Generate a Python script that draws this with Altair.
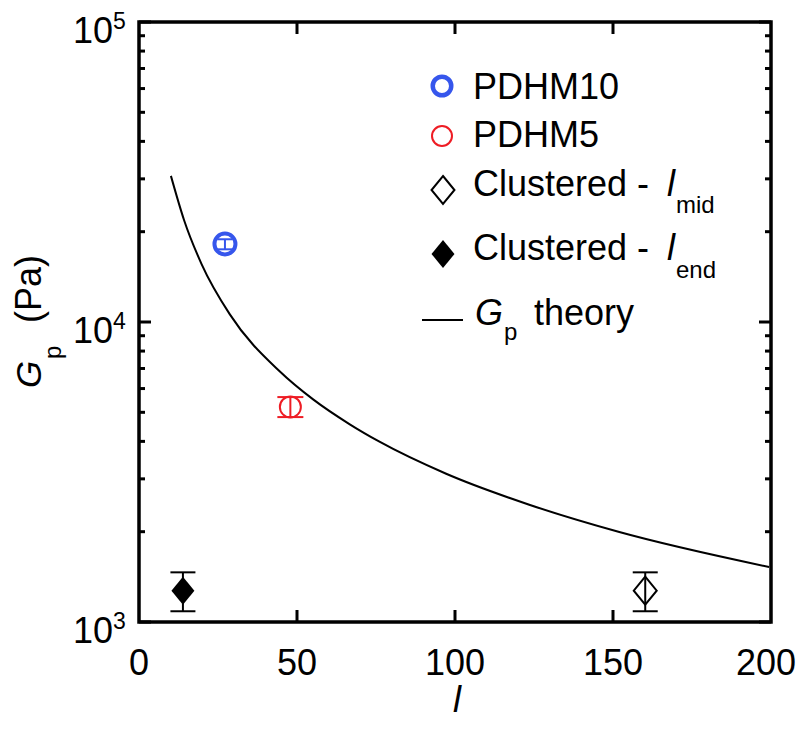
import altair as alt
import pandas as pd

# ---------------- data ----------------
theory_l = [10.1, 14.3, 19.8, 28.75, 44.5, 55.1, 66.7, 76.1, 97.2, 123.5, 152.0, 199.4]
theory_g = [30700, 21800, 15600, 10600, 6850, 5520, 4560, 3990, 3120, 2460, 1995, 1525]

sample_names = ["PDHM10", "PDHM5", "Clustered - l_mid", "Clustered - l_end"]
sample_l = [27.2, 47.9, 160.2, 13.9]
sample_g = [18200, 5210, 1272, 1272]
sample_lo = [17470, 4820, 1086, 1086]
sample_hi = [18870, 5620, 1464, 1464]

x_tick_values = [0, 50, 100, 150, 200]
x_tick_labels = ["0", "50", "100", "150", "200"]
y_major = [1000, 10000, 100000]
y_exponents = ["3", "4", "5"]
y_minor = [2000, 3000, 4000, 5000, 6000, 7000, 8000, 9000,
           20000, 30000, 40000, 50000, 60000, 70000, 80000, 90000]

# ---------------- styling ----------------
W, H = 632, 600
FONT = "Liberation Sans"
BLUE = "#3656ec"
RED = "#ee1c24"
DIAMOND = "M0,-1L0.82,0L0,1L-0.82,0Z"
CAP = "M-1,0H1"

xs = alt.Scale(domain=[0, 200], nice=False, zero=False)
ys = alt.Scale(type="log", domain=[1000, 100000], nice=False)

theory_df = pd.DataFrame({"l": theory_l, "g": theory_g})
samples_df = pd.DataFrame({"name": sample_names, "l": sample_l, "g": sample_g,
                           "lo": sample_lo, "hi": sample_hi})
one = pd.DataFrame({"k": [0]})

def X(f):
    return alt.X(f, type="quantitative", scale=xs, axis=None)

def Y(f):
    return alt.Y(f, type="quantitative", scale=ys, axis=None)

layers = []

# theory curve
layers.append(alt.Chart(theory_df).mark_line(color="black", strokeWidth=2, interpolate="monotone")
              .encode(x=X("l"), y=Y("g")))

styles = {
    "PDHM10": dict(shape="circle", size=441, filled=False, color=BLUE, sw=4, capw=15, ecol=BLUE),
    "PDHM5": dict(shape="circle", size=441, filled=False, color=RED, sw=2, capw=26, ecol=RED),
    "Clustered - l_mid": dict(shape=DIAMOND, size=784, filled=False, color="black", sw=2, capw=25, ecol="black"),
    "Clustered - l_end": dict(shape=DIAMOND, size=784, filled=True, color="black", sw=1, capw=25, ecol="black"),
}

for name in sample_names:
    st = styles[name]
    base = alt.Chart(samples_df).transform_filter(alt.datum.name == name)
    layers.append(base.mark_rule(color=st["ecol"], strokeWidth=2)
                  .encode(x=X("l"), y=Y("lo"), y2="hi"))
    for f in ["lo", "hi"]:
        layers.append(base.mark_point(shape=CAP, size=st["capw"] ** 2, filled=False, color=st["ecol"],
                                      strokeWidth=2, opacity=1)
                      .encode(x=X("l"), y=Y(f)))
    layers.append(base.mark_point(shape=st["shape"], size=st["size"], filled=st["filled"],
                                  color=st["color"], strokeWidth=st["sw"], opacity=1)
                  .encode(x=X("l"), y=Y("g")))

# ticks (inward, mirrored)
ymaj_df = pd.DataFrame({"v": y_major})
ymin_df = pd.DataFrame({"v": y_minor})
xt_df = pd.DataFrame({"v": x_tick_values[1:-1]})
for df, ln in [(ymaj_df, 12), (ymin_df, 6)]:
    layers.append(alt.Chart(df).mark_rule(color="black", strokeWidth=3)
                  .encode(y=Y("v"), x=alt.value(0), x2=alt.value(ln)))
    layers.append(alt.Chart(df).mark_rule(color="black", strokeWidth=3)
                  .encode(y=Y("v"), x=alt.value(W), x2=alt.value(W - ln)))
layers.append(alt.Chart(xt_df).mark_rule(color="black", strokeWidth=3)
              .encode(x=X("v"), y=alt.value(H), y2=alt.value(H - 12)))
layers.append(alt.Chart(xt_df).mark_rule(color="black", strokeWidth=3)
              .encode(x=X("v"), y=alt.value(0), y2=alt.value(12)))

# tick labels
xl_df = pd.DataFrame({"v": x_tick_values, "t": x_tick_labels})
layers.append(alt.Chart(xl_df).transform_filter(alt.datum.v < 200)
              .mark_text(font=FONT, fontSize=36, align="center", baseline="alphabetic", color="black")
              .encode(x=X("v"), y=alt.value(H + 53), text="t:N"))
layers.append(alt.Chart(xl_df).transform_filter(alt.datum.v == 200)
              .mark_text(font=FONT, fontSize=36, align="center", baseline="alphabetic", color="black", dx=-5)
              .encode(x=X("v"), y=alt.value(H + 53), text="t:N"))
yl_df = pd.DataFrame({"v": y_major, "e": y_exponents})
layers.append(alt.Chart(yl_df).mark_text(font=FONT, fontSize=36, align="right", baseline="alphabetic",
                                         dy=21, text="10", color="black")
              .encode(y=Y("v"), x=alt.value(-26)))
layers.append(alt.Chart(yl_df).mark_text(font=FONT, fontSize=23, align="left", baseline="alphabetic",
                                         dy=7, color="black")
              .encode(y=Y("v"), x=alt.value(-26), text="e:N"))

def txt(s, x, y, size=36, italic=False, angle=0, align="left"):
    kw = dict(text=s, font=FONT, fontSize=size, align=align, baseline="alphabetic", color="black")
    if italic:
        kw["fontStyle"] = "italic"
    if angle:
        kw["angle"] = angle
    return alt.Chart(one).mark_text(**kw).encode(x=alt.value(x), y=alt.value(y))

# axis titles
layers.append(txt("l", 318, 690, size=36, italic=True, align="center"))
layers.append(txt("G", -98, 366, size=35, italic=True, angle=270))
layers.append(txt("p", -78, 337, size=24, angle=270))
layers.append(txt("(Pa)", -98, 301, size=36, angle=270))

# legend
def sym(shape, size, filled, color, sw, x, y):
    return alt.Chart(one).mark_point(shape=shape, size=size, filled=filled, color=color,
                                     strokeWidth=sw, opacity=1).encode(x=alt.value(x), y=alt.value(y))

layers.append(sym("circle", 342, False, BLUE, 4.5, 303, 64))
layers.append(txt("PDHM10", 334, 77))
layers.append(sym("circle", 400, False, RED, 2, 303, 114))
layers.append(txt("PDHM5", 334, 125))
layers.append(sym(DIAMOND, 784, False, "black", 2, 304, 168))
layers.append(txt("Clustered -", 334, 174))
layers.append(txt("l", 528, 174, italic=True))
layers.append(txt("mid", 537, 191, size=24))
layers.append(sym(DIAMOND, 784, True, "black", 1, 304, 232))
layers.append(txt("Clustered -", 334, 238))
layers.append(txt("l", 528, 238, italic=True))
layers.append(txt("end", 537, 256, size=24))
layers.append(alt.Chart(one).mark_rule(color="black", strokeWidth=2)
              .encode(x=alt.value(283), x2=alt.value(324), y=alt.value(298)))
layers.append(txt("G", 336, 303, italic=True))
layers.append(txt("p", 365, 318, size=24))
layers.append(txt("theory", 395, 303))

chart = (alt.layer(*layers)
         .properties(width=W, height=H,
                     autosize=alt.AutoSizeParams(type="none"),
                     padding={"left": 131, "top": 14, "right": 25, "bottom": 98})
         .configure_view(stroke="black", strokeWidth=3.5))

chart.save("out.html", embed_options={"renderer": "svg", "actions": False})
